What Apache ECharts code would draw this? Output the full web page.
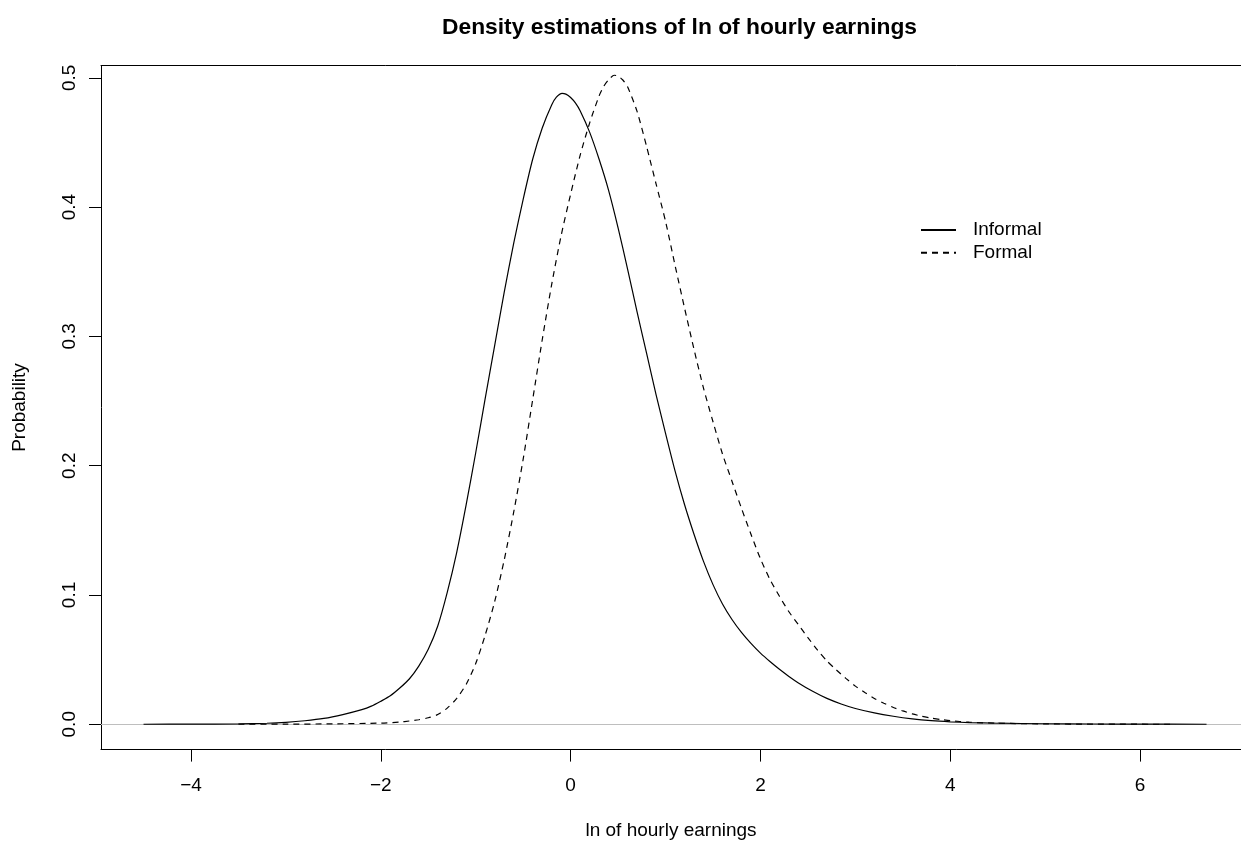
<!DOCTYPE html>
<html>
<head>
<meta charset="utf-8">
<script src="https://cdn.jsdelivr.net/npm/echarts@6/dist/echarts.min.js"></script>
<style>
html,body{margin:0;padding:0;background:#fff;}
#chart{width:1241px;height:846px;}
</style>
</head>
<body>
<div id="chart"></div>
<script>
// ---- data ----
var informalX = [-4.5, -4.0, -3.5, -3.2, -3.0, -2.8, -2.6, -2.4, -2.2, -2.1, -2.0, -1.9, -1.8, -1.7, -1.6, -1.5, -1.4, -1.3, -1.2, -1.1, -1.0, -0.9, -0.8, -0.7, -0.6, -0.5, -0.4, -0.3, -0.2, -0.15, -0.09, -0.05, 0.0, 0.05, 0.1, 0.2, 0.3, 0.4, 0.5, 0.6, 0.7, 0.8, 0.9, 1.0, 1.1, 1.2, 1.3, 1.4, 1.5, 1.6, 1.7, 1.8, 1.9, 2.0, 2.1, 2.2, 2.3, 2.4, 2.55, 2.7, 2.85, 3.0, 3.2, 3.4, 3.6, 3.8, 4.0, 4.2, 4.5, 5.0, 5.5, 6.0, 6.7];
var informalY = [0.0, 0.0001, 0.0003, 0.0008, 0.0015, 0.0027, 0.0045, 0.0075, 0.0113, 0.014, 0.0178, 0.022, 0.028, 0.035, 0.045, 0.058, 0.076, 0.102, 0.133, 0.17, 0.21, 0.252, 0.293, 0.334, 0.372, 0.406, 0.437, 0.461, 0.479, 0.485, 0.488, 0.4874, 0.4848, 0.4806, 0.4745, 0.458, 0.437, 0.413, 0.384, 0.352, 0.319, 0.287, 0.255, 0.225, 0.196, 0.170, 0.147, 0.126, 0.108, 0.093, 0.081, 0.071, 0.0625, 0.055, 0.0485, 0.0425, 0.037, 0.032, 0.0255, 0.020, 0.0157, 0.0122, 0.0088, 0.0062, 0.0042, 0.0028, 0.0019, 0.0013, 0.0008, 0.0004, 0.0002, 0.0001, 0.0];
var formalX = [-3.5, -3.0, -2.5, -2.0, -1.8, -1.7, -1.6, -1.5, -1.4, -1.3, -1.2, -1.1, -1.0, -0.9, -0.8, -0.7, -0.6, -0.5, -0.4, -0.3, -0.2, -0.1, 0.0, 0.1, 0.2, 0.3, 0.35, 0.4, 0.46, 0.5, 0.55, 0.6, 0.7, 0.8, 0.9, 1.0, 1.1, 1.2, 1.3, 1.4, 1.5, 1.6, 1.7, 1.8, 1.9, 2.0, 2.1, 2.2, 2.3, 2.4, 2.5, 2.6, 2.7, 2.8, 2.9, 3.0, 3.1, 3.2, 3.3, 3.4, 3.5, 3.6, 3.7, 3.8, 3.9, 4.0, 4.2, 4.5, 5.0, 5.5, 6.37];
var formalY = [0.0, 0.0001, 0.0003, 0.0009, 0.0017, 0.0025, 0.0035, 0.005, 0.0075, 0.0125, 0.02, 0.031, 0.047, 0.069, 0.095, 0.127, 0.164, 0.205, 0.251, 0.297, 0.34, 0.378, 0.41, 0.44, 0.465, 0.486, 0.4935, 0.4985, 0.502, 0.5013, 0.4983, 0.493, 0.474, 0.447, 0.418, 0.389, 0.355, 0.322, 0.29, 0.26, 0.234, 0.209, 0.188, 0.167, 0.147, 0.128, 0.112, 0.099, 0.087, 0.077, 0.067, 0.0575, 0.049, 0.042, 0.0355, 0.0295, 0.0245, 0.02, 0.0163, 0.013, 0.0103, 0.008, 0.0062, 0.0048, 0.0037, 0.0028, 0.0016, 0.0008, 0.0003, 0.0001, 0.0];
var seriesNames = ['Informal', 'Formal'];
var xTicks = [-4, -2, 0, 2, 4, 6];
var yTicks = [0, 0.1, 0.2, 0.3, 0.4, 0.5];
var titleText = 'Density estimations of ln of hourly earnings';
var xLabel = 'ln of hourly earnings';
var yLabel = 'Probability';

function pairs(xs, ys) { return xs.map(function (x, i) { return [x, ys[i]]; }); }
var FONT = '"Liberation Sans", Arial, Helvetica, sans-serif';
var X_MIN = -4.948, X_MAX = 7.063;

var chart = echarts.init(document.getElementById('chart'), null, {renderer: 'canvas'});
chart.setOption({
  animation: false,
  backgroundColor: '#ffffff',
  title: {
    text: titleText,
    left: 674.5,
    textAlign: 'center',
    top: 11,
    textStyle: {fontFamily: FONT, fontSize: 22.8, fontWeight: 'bold', color: '#000'}
  },
  legend: {
    orient: 'vertical',
    left: 920,
    top: 220.5,
    padding: 0,
    itemWidth: 35,
    itemHeight: 14,
    itemGap: 3.7,
    data: seriesNames,
    itemStyle: {opacity: 0},
    textStyle: {fontFamily: FONT, fontSize: 19, color: '#000', lineHeight: 19, padding: [0, 0, 0, 12]}
  },
  grid: {
    left: 101, top: 65.4, width: 1140, height: 684.2,
    show: false
  },
  xAxis: [{
    type: 'value', min: X_MIN, max: X_MAX, position: 'bottom',
    name: xLabel, nameLocation: 'middle', nameGap: 72,
    nameTextStyle: {fontFamily: FONT, fontSize: 19, color: '#000'},
    axisLine: {show: true, onZero: false, lineStyle: {color: '#000', width: 1}},
    splitLine: {show: false},
    axisTick: {show: true, length: 12, customValues: xTicks, lineStyle: {color: '#000', width: 1}},
    axisLabel: {
      show: true, customValues: xTicks, margin: 27,
      fontFamily: FONT, fontSize: 19, color: '#000',
      formatter: function (v) { return v < 0 ? '\u2212' + Math.abs(v) : String(v); }
    }
  }, {
    type: 'value', min: X_MIN, max: X_MAX, position: 'top',
    axisLine: {show: true, onZero: false, lineStyle: {color: '#000', width: 1}},
    splitLine: {show: false}, axisTick: {show: false}, axisLabel: {show: false}
  }],
  yAxis: {
    type: 'value', min: -0.0196, max: 0.5096,
    name: yLabel, nameLocation: 'middle', nameGap: 72, nameRotate: 90,
    nameTextStyle: {fontFamily: FONT, fontSize: 19, color: '#000'},
    axisLine: {show: true, onZero: false, lineStyle: {color: '#000', width: 1}},
    splitLine: {show: false},
    axisTick: {show: true, length: 12, customValues: yTicks, lineStyle: {color: '#000', width: 1}},
    axisLabel: {
      show: true, customValues: yTicks, margin: 22, rotate: 90,
      fontFamily: FONT, fontSize: 19, color: '#000',
      formatter: function (v) { return Number(v).toFixed(1); }
    }
  },
  series: [
    {
      name: seriesNames[0], type: 'line', data: pairs(informalX, informalY),
      symbol: 'none', smooth: 0.25, z: 3,
      lineStyle: {color: '#000', width: 1.2, type: 'solid'},
      itemStyle: {color: '#000'},
      markLine: {
        silent: true, symbol: 'none', label: {show: false}, z: 1,
        lineStyle: {color: '#bebebe', width: 1, type: 'solid'},
        data: [{yAxis: 0}]
      }
    },
    {
      name: seriesNames[1], type: 'line', data: pairs(formalX, formalY),
      symbol: 'none', smooth: 0.25, z: 3,
      lineStyle: {color: '#000', width: 1.2, type: [6, 5]},
      itemStyle: {color: '#000'}
    }
  ]
});
</script>
</body>
</html>
